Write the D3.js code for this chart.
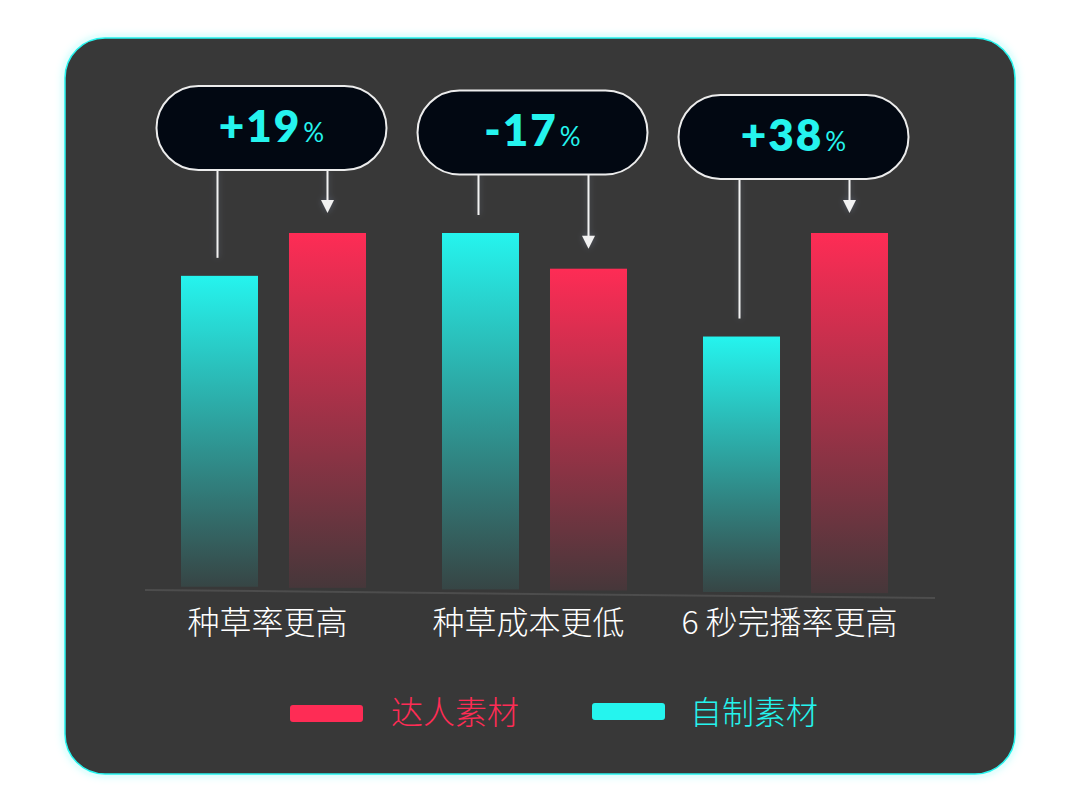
<!DOCTYPE html>
<html>
<head>
<meta charset="utf-8">
<script src="https://cdn.jsdelivr.net/npm/d3@7"></script>
<style>
  body { margin: 0; background: #fff; }
  svg { display: block; }
</style>
</head>
<body>
<div id="chart"></div>
<script>
// data
var categories = ['种草率更高', '种草成本更低', '6 秒完播率更高'];
var selfMade = [88, 100, 71];     // 自制素材 (cyan)
var talent = [100, 90, 100];      // 达人素材 (red)
var changes = ['+19', '-17', '+38'];
var legendNames = ['达人素材', '自制素材'];

var CYAN = '#25F4EE', RED = '#FE2C55';
var W = 1080, H = 805;

var svg = d3.select('#chart').append('svg')
    .attr('width', W)
    .attr('height', H);
var defs = svg.append('defs');

// bar gradients, bright at top fading into the panel
function fade(id, color) {
    var g = defs.append('linearGradient').attr('id', id)
        .attr('x1', 0).attr('y1', 0).attr('x2', 0).attr('y2', 1);
    g.append('stop').attr('offset', '0%').attr('stop-color', color).attr('stop-opacity', 1);
    g.append('stop').attr('offset', '100%').attr('stop-color', color).attr('stop-opacity', 0.07);
}
fade('gCyan', CYAN);
fade('gRed', RED);

var glow = defs.append('filter').attr('id', 'panelGlow')
    .attr('x', '-5%').attr('y', '-5%').attr('width', '110%').attr('height', '110%');
glow.append('feGaussianBlur').attr('in', 'SourceAlpha').attr('stdDeviation', 5).attr('result', 'b');
glow.append('feFlood').attr('flood-color', CYAN).attr('flood-opacity', 0.35);
glow.append('feComposite').attr('in2', 'b').attr('operator', 'in').attr('result', 'c');
var gm = glow.append('feMerge');
gm.append('feMergeNode').attr('in', 'c');
gm.append('feMergeNode').attr('in', 'SourceGraphic');

// soft bluish halo round the callout lines (user space, so thin lines still render)
var halo = defs.append('filter').attr('id', 'lineHalo')
    .attr('filterUnits', 'userSpaceOnUse')
    .attr('x', 0).attr('y', 0).attr('width', W).attr('height', H);
halo.append('feGaussianBlur').attr('in', 'SourceAlpha').attr('stdDeviation', 3).attr('result', 'b');
halo.append('feFlood').attr('flood-color', '#7c8aa8').attr('flood-opacity', 0.45);
halo.append('feComposite').attr('in2', 'b').attr('operator', 'in').attr('result', 'c');
var hm = halo.append('feMerge');
hm.append('feMergeNode').attr('in', 'c');
hm.append('feMergeNode').attr('in', 'SourceGraphic');

// panel
svg.append('rect')
    .attr('x', 65).attr('y', 38)
    .attr('width', 950).attr('height', 736)
    .attr('rx', 40)
    .attr('fill', '#383838')
    .attr('stroke', CYAN)
    .attr('stroke-width', 1.5)
    .attr('filter', 'url(#panelGlow)');

// scales
var x0 = d3.scaleBand().domain(categories).range([143, 926]);
var x1 = d3.scaleBand().domain(['self', 'talent']).range([0, 185]).paddingInner(0.287);
var inner = (x0.bandwidth() - 185) / 2;
var y = d3.scaleLinear().domain([0, 100]).range([590, 233]);

// the baseline runs slightly downhill to the right
function base(x) { return y(0) + (x - 145) * 0.0101; }

svg.append('line')
    .attr('x1', 145).attr('y1', base(145))
    .attr('x2', 935).attr('y2', base(935))
    .attr('stroke', '#4d4d4d')
    .attr('stroke-width', 2);

var rows = categories.map(function (c, i) {
    return { cat: c, self: selfMade[i], talent: talent[i], change: changes[i] };
});

var groups = svg.selectAll('g.grp')
    .data(rows)
    .enter().append('g')
    .attr('class', 'grp');

function barX(d, key) { return x0(d.cat) + inner + x1(key); }

['self', 'talent'].forEach(function (key) {
    groups.append('rect')
        .attr('x', function (d) { return barX(d, key); })
        .attr('y', function (d) { return y(d[key]); })
        .attr('width', x1.bandwidth())
        .attr('height', function (d) {
            return base(barX(d, key) + x1.bandwidth() / 2) - 4 - y(d[key]);
        })
        .attr('fill', key == 'self' ? 'url(#gCyan)' : 'url(#gRed)');
});

// callout pills
var pillW = 230, pillH = 84;
function cx(d) { return x0(d.cat) + x0.bandwidth() / 2 - 2; }
function pillTop(d) { return 86 + (cx(d) - 271) * 0.017; }

var callouts = groups.append('g').attr('filter', 'url(#lineHalo)');
callouts.append('line')
    .attr('x1', function (d) { return barX(d, 'self') + x1.bandwidth() / 2 - 2; })
    .attr('x2', function (d) { return barX(d, 'self') + x1.bandwidth() / 2 - 2; })
    .attr('y1', function (d) { return pillTop(d) + pillH; })
    .attr('y2', function (d) { return y(d.self) - 18; })
    .attr('stroke', '#f2f2f2')
    .attr('stroke-width', 2);
callouts.append('line')
    .attr('x1', function (d) { return barX(d, 'talent') + x1.bandwidth() / 2; })
    .attr('x2', function (d) { return barX(d, 'talent') + x1.bandwidth() / 2; })
    .attr('y1', function (d) { return pillTop(d) + pillH; })
    .attr('y2', function (d) { return y(d.talent) - 30; })
    .attr('stroke', '#f2f2f2')
    .attr('stroke-width', 2);
callouts.append('path')
    .attr('d', function (d) {
        var ax = barX(d, 'talent') + x1.bandwidth() / 2, ay = y(d.talent) - 20;
        return 'M' + (ax - 6.5) + ',' + (ay - 13) + 'L' + (ax + 6.5) + ',' + (ay - 13) + 'L' + ax + ',' + ay + 'Z';
    })
    .attr('fill', '#f2f2f2');

groups.append('rect')
    .attr('x', function (d) { return cx(d) - pillW / 2; })
    .attr('y', pillTop)
    .attr('width', pillW)
    .attr('height', pillH)
    .attr('rx', pillH / 2)
    .attr('fill', '#020812')
    .attr('stroke', '#ececec')
    .attr('stroke-width', 2);

var lbl = groups.append('text')
    .attr('x', cx)
    .attr('y', function (d) { return pillTop(d) + pillH / 2 + 14; })
    .attr('text-anchor', 'middle')
    .attr('fill', CYAN)
    .style('font-family', 'Lato, "DejaVu Sans", sans-serif');
lbl.append('tspan')
    .text(function (d) { return d.change; })
    .style('font-size', '44px')
    .style('font-weight', 800)
    .style('letter-spacing', '2px');
lbl.append('tspan')
    .attr('dx', 2)
    .text('%')
    .style('font-size', '26px')
    .style('font-weight', 400);

// category labels
groups.append('text')
    .attr('x', function (d) { return x0(d.cat) + x0.bandwidth() / 2 - 6; })
    .attr('y', 634)
    .attr('text-anchor', 'middle')
    .attr('fill', '#ffffff')
    .style('font-family', '"Noto Sans CJK SC", sans-serif')
    .style('font-size', '32px')
    .style('font-weight', 300)
    .text(function (d) { return d.cat; });

// legend
var legend = svg.append('g');
var legendColors = [RED, CYAN];
var legendX = [290, 592];
var legendTextX = [391, 690];
legendNames.forEach(function (name, i) {
    legend.append('rect')
        .attr('x', legendX[i]).attr('y', 705 - i * 2)
        .attr('width', 73).attr('height', 17)
        .attr('rx', 3)
        .attr('fill', legendColors[i]);
    legend.append('text')
        .attr('x', legendTextX[i])
        .attr('y', 724)
        .attr('fill', legendColors[i])
        .style('font-family', '"Noto Sans CJK SC", sans-serif')
        .style('font-size', '32px')
        .style('font-weight', 300)
        .text(name);
});
</script>
</body>
</html>
